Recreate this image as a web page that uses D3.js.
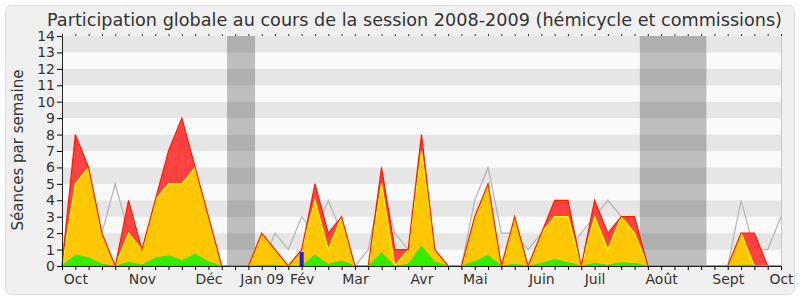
<!DOCTYPE html>
<html>
<head>
<meta charset="utf-8">
<script src="https://cdn.jsdelivr.net/npm/d3@7"></script>
<style>
  body { margin: 0; background: #fff; }
  text { font-family: "DejaVu Sans", sans-serif; fill: #333; }
</style>
</head>
<body>
<div class="chart"></div>
<script>
var margin = { top: 36, right: 19, bottom: 34, left: 62 };
var width = 800 - margin.left - margin.right;
var height = 300 - margin.top - margin.bottom;

// one value per week, from the first week of the session (index 0)
var rouge = [0, 8, 6, 2, 0, 4, 1, 4, 7, 9, 6, 3, 0, 0, 0, 2, 1, 0, 1, 5,
  2, 3, 0, 0, 6, 1, 1, 8, 1, 0, 0, 3, 5, 0, 3, 0, 2, 4, 4, 0,
  4, 2, 3, 3, 0, 0, 0, 0, 0, 0, 0, 2, 2, 0, 0];
var jaune = [0, 5, 6, 2, 0, 2, 1, 4, 5, 5, 6, 3, 0, 0, 0, 2, 1, 0, 1, 4,
  1, 3, 0, 0, 5, 0, 1, 7, 1, 0, 0, 3, 5, 0, 3, 0, 2, 3, 3, 0,
  3, 1, 3, 2, 0, 0, 0, 0, 0, 0, 0, 2, 0, 0, 0];
var vert = [0, 0.67, 0.5, 0.1, 0, 0.22, 0.06, 0.47, 0.63, 0.33, 0.73, 0.25, 0, 0, 0, 0.05, 0.05, 0, 0, 0.67,
  0.1, 0.3, 0, 0, 0.8, 0, 0.1, 1.22, 0.25, 0, 0, 0.27, 0.65, 0, 0.1, 0, 0.15, 0.4, 0.2, 0,
  0.15, 0.05, 0.2, 0.15, 0, 0, 0, 0, 0, 0, 0, 0.05, 0.05, 0, 0];
var moyenne = [1, 3, 5, 2, 5, 2, 1, 3, 2, 8, 2, 1, 0, 0, 0, 0, 2, 1, 3, 2,
  4, 2, 0, 1, 5, 2, 1, 4, 1, 0, 0, 4, 6, 2, 2, 1, 2, 3, 1, 2,
  3, 4, 3, 2, 0, 0, 0, 0, 0, 0, 0, 4, 1, 1, 3];
var questions = [{ semaine: 18, valeur: 0.85 }];

// vacances (en semaines)
var vacances = [[12.4, 14.5], [43.4, 48.4]];

var mois = ['Oct', 'Nov', 'Déc', 'Jan 09', 'Fév', 'Mar', 'Avr', 'Mai', 'Juin', 'Juil', 'Août', 'Sept', 'Oct'];
var moisSemaine = [1, 6, 11, 15, 18, 22, 27, 31, 36, 40, 45, 50, 54];

var nbSemaines = rouge.length - 1;

var root = d3.select('.chart')
  .append('svg')
    .attr('width', 800)
    .attr('height', 300);

root.append('rect')
  .attr('x', 5.5).attr('y', 5.5)
  .attr('width', 789).attr('height', 289)
  .attr('rx', 6)
  .attr('fill', '#f0f0f0')
  .attr('stroke', '#dcdcdc');

root.append('text')
  .attr('x', 47)
  .attr('y', 26)
  .attr('textLength', 735)
  .attr('lengthAdjust', 'spacingAndGlyphs')
  .style('font-size', '18px')
  .text('Participation globale au cours de la session 2008-2009 (hémicycle et commissions)');

root.append('text')
  .attr('transform', 'translate(23, 150) rotate(-90)')
  .attr('text-anchor', 'middle')
  .style('font-size', '15px')
  .text('Séances par semaine');

var svg = root.append('g')
  .attr('transform', `translate(${margin.left}, ${margin.top})`);

var xScale = d3.scaleLinear()
  .domain([0, nbSemaines])
  .range([0, width]);

var yScale = d3.scaleLinear()
  .domain([0, 14])
  .range([height, 0]);

// bandes de fond
svg.selectAll('.bande')
  .data(d3.range(14))
  .enter()
  .append('rect')
  .attr('x', 0)
  .attr('y', d => yScale(d + 1))
  .attr('width', width)
  .attr('height', d => yScale(d) - yScale(d + 1))
  .attr('fill', d => d % 2 ? '#e6e6e6' : '#fafafa');

svg.selectAll('.vacances')
  .data(vacances)
  .enter()
  .append('rect')
  .attr('x', d => xScale(d[0]))
  .attr('y', 0)
  .attr('width', d => xScale(d[1]) - xScale(d[0]))
  .attr('height', height)
  .attr('fill', '#000')
  .attr('fill-opacity', 0.24);

var area = values => d3.area()
  .x((d, i) => xScale(i))
  .y0(yScale(0))
  .y1(d => yScale(d))(values);

var line = values => d3.line()
  .x((d, i) => xScale(i))
  .y(d => yScale(d))(values);

svg.append('path')
  .attr('d', line(moyenne))
  .attr('fill', 'none')
  .attr('stroke', '#b4b4b4')
  .attr('stroke-width', 1.2);

svg.append('path')
  .attr('d', area(rouge))
  .attr('fill', '#ff2a2a')
  .attr('fill-opacity', 0.88);

svg.append('path')
  .attr('d', area(jaune))
  .attr('fill', '#ffd200')
  .attr('fill-opacity', 0.93)
  .attr('stroke', '#ffff00')
  .attr('stroke-width', 1.2);

svg.append('path')
  .attr('d', line(rouge))
  .attr('fill', 'none')
  .attr('stroke', '#ff1a00')
  .attr('stroke-width', 1.2);

svg.append('path')
  .attr('d', area(vert))
  .attr('fill', '#33ee00')
  .attr('stroke', '#2fe000')
  .attr('stroke-width', 0.8);

svg.selectAll('.question')
  .data(questions)
  .enter()
  .append('rect')
  .attr('x', d => xScale(d.semaine) - 2)
  .attr('y', d => yScale(d.valeur))
  .attr('width', 4)
  .attr('height', d => yScale(0) - yScale(d.valeur))
  .attr('fill', '#2020d8');

// bord droit
svg.append('line')
  .attr('x1', width + 0.5).attr('x2', width + 0.5)
  .attr('y1', 0).attr('y2', height)
  .attr('stroke', '#c8c8c8');

var yAxis = d3.axisLeft(yScale)
  .ticks(14)
  .tickSize(5)
  .tickPadding(2);

svg.append('g')
  .call(yAxis)
  .call(g => g.selectAll('text').style('font-size', '14px').attr('fill', '#333'))
  .call(g => g.select('.domain').attr('stroke', '#222'));

var xTicks = d3.axisBottom(xScale)
  .tickValues(d3.range(nbSemaines + 1))
  .tickSize(4)
  .tickFormat('');

svg.append('g')
  .attr('transform', `translate(0, ${height})`)
  .call(xTicks)
  .call(g => g.select('.domain').attr('stroke', '#222'));

var xLabels = d3.axisBottom(xScale)
  .tickValues(moisSemaine)
  .tickSize(0)
  .tickPadding(8)
  .tickFormat((d, i) => mois[i]);

svg.append('g')
  .attr('transform', `translate(0, ${height})`)
  .call(xLabels)
  .call(g => g.select('.domain').remove())
  .call(g => g.selectAll('text').style('font-size', '14px').attr('fill', '#333'));

var topTicks = d3.axisTop(xScale)
  .tickValues(d3.range(nbSemaines + 1))
  .tickSize(2)
  .tickFormat('');

svg.append('g')
  .call(topTicks)
  .call(g => g.select('.domain').remove())
  .call(g => g.selectAll('line').attr('stroke', '#333'));
</script>
</body>
</html>
